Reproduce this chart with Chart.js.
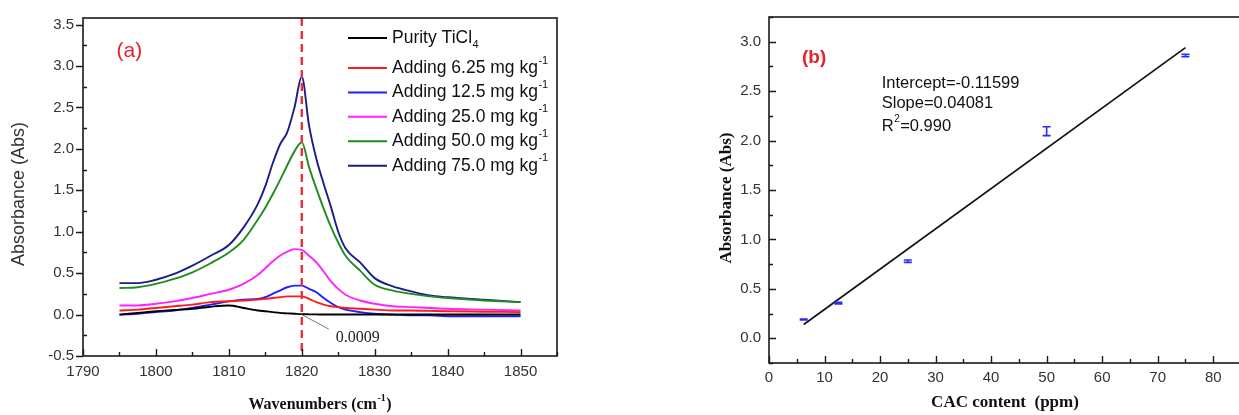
<!DOCTYPE html>
<html>
<head>
<meta charset="utf-8">
<script src="https://cdn.jsdelivr.net/npm/chart.js@4.4.0/dist/chart.umd.min.js"></script>
<style>
    html, body { margin: 0; padding: 0; background: #fff; width: 1239px; height: 415px; overflow: hidden; position: relative; }
    #wrapA { position: absolute; left: 0; top: 0; }
    #wrapB { position: absolute; left: 690px; top: 0; }
</style>
</head>
<body>
<div id="wrapA"><canvas id="chartA" width="600" height="415"></canvas></div>
<div id="wrapB"><canvas id="chartB" width="555" height="415"></canvas></div>
<script>
// ---- panel (a): spectra ----
const wavenumbers = [1795, 1797.5, 1800, 1802.5, 1805, 1807.5, 1810, 1812, 1814, 1815, 1816, 1817, 1818, 1819, 1820,
    1821, 1822, 1823, 1824, 1825, 1826, 1828, 1830, 1832.5, 1835, 1837.5, 1840, 1845, 1850];
const purity  = [0.00, 0.02, 0.04, 0.055, 0.07, 0.095, 0.11, 0.08, 0.05, 0.04, 0.03, 0.02, 0.015, 0.01, 0.005,
    0.003, 0.002, 0.001, 0.001, 0.001, 0.001, 0.001, 0.001, 0.001, 0.001, 0.001, 0.001, 0.001, 0.001];
const add625  = [0.05, 0.06, 0.08, 0.10, 0.12, 0.15, 0.16, 0.17, 0.18, 0.19, 0.20, 0.21, 0.22, 0.22, 0.22,
    0.19, 0.15, 0.12, 0.10, 0.09, 0.08, 0.07, 0.06, 0.05, 0.05, 0.045, 0.04, 0.035, 0.03];
const add125  = [0.00, 0.01, 0.03, 0.05, 0.08, 0.12, 0.16, 0.18, 0.19, 0.21, 0.25, 0.29, 0.33, 0.35, 0.35,
    0.31, 0.27, 0.20, 0.14, 0.09, 0.06, 0.03, 0.01, 0.00, -0.01, -0.01, -0.02, -0.02, -0.02];
const add250  = [0.11, 0.11, 0.13, 0.16, 0.20, 0.25, 0.30, 0.37, 0.48, 0.56, 0.64, 0.71, 0.76, 0.79, 0.78,
    0.71, 0.63, 0.52, 0.40, 0.31, 0.24, 0.17, 0.13, 0.10, 0.09, 0.08, 0.07, 0.06, 0.05];
const add500  = [0.32, 0.33, 0.37, 0.43, 0.51, 0.62, 0.75, 0.90, 1.15, 1.29, 1.45, 1.62, 1.80, 1.97, 2.08,
    1.78, 1.52, 1.28, 1.06, 0.87, 0.71, 0.53, 0.36, 0.29, 0.25, 0.22, 0.20, 0.17, 0.15];
const add750  = [0.38, 0.38, 0.42, 0.49, 0.59, 0.71, 0.84, 1.05, 1.34, 1.55, 1.82, 2.05, 2.20, 2.50, 2.87,
    2.28, 1.88, 1.58, 1.30, 1.00, 0.80, 0.63, 0.44, 0.34, 0.28, 0.23, 0.21, 0.18, 0.15];
const seriesLabels = ['Purity TiCl4', 'Adding 6.25 mg kg-1', 'Adding 12.5 mg kg-1', 'Adding 25.0 mg kg-1',
    'Adding 50.0 mg kg-1', 'Adding 75.0 mg kg-1'];
const seriesColors = ['#000000', '#ff1a1a', '#1f1fff', '#ff22ff', '#1f8c1f', '#1c1c8a'];
const xTicksA = [1790, 1800, 1810, 1820, 1830, 1840, 1850];
const yTicksA = [-0.5, 0.0, 0.5, 1.0, 1.5, 2.0, 2.5, 3.0, 3.5];
const peakLine = 1820;
const peakNote = '0.0009';

// ---- panel (b): calibration ----
const cacContent = [6.25, 12.5, 25, 50, 75];
const absorbance = [0.19, 0.355, 0.78, 2.095, 2.86];
const absError   = [0.005, 0.008, 0.012, 0.045, 0.012];
const fitX = [6.25, 75];
const fitY = [0.14, 2.94];
const xTicksB = [0, 10, 20, 30, 40, 50, 60, 70, 80];
const yTicksB = [0.0, 0.5, 1.0, 1.5, 2.0, 2.5, 3.0];
const fitText = ['Intercept=-0.11599', 'Slope=0.04081', 'R2=0.990'];

const SANS = '"Liberation Sans", Arial, sans-serif';
const SERIF = '"Liberation Serif", "Times New Roman", serif';

// base text + small raised / lowered part, returns total width
function scriptText(ctx, x, y, base, small, mode, size, family, weight) {
    ctx.textBaseline = 'middle';
    ctx.textAlign = 'left';
    ctx.font = weight + ' ' + size + 'px ' + family;
    ctx.fillText(base, x, y);
    var w = ctx.measureText(base).width;
    if (!small) return w;
    ctx.font = weight + ' ' + Math.round(size * 0.62) + 'px ' + family;
    var dy = mode === 'sup' ? -size * 0.42 : size * 0.38;
    ctx.fillText(small, x + w + 0.5, y + dy);
    return w + 0.5 + ctx.measureText(small).width;
}

function splitLabel(s) {
    if (/TiCl4$/.test(s)) return [s.slice(0, -1), '4', 'sub'];
    if (/kg-1$/.test(s)) return [s.slice(0, -2), '-1', 'sup'];
    return [s, '', ''];
}

function isMultiple(v, step) {
    return Math.abs(v / step - Math.round(v / step)) < 1e-6;
}

// frame and Origin-style ticks
function drawFrame(chart, cfg) {
    var ctx = chart.ctx, a = chart.chartArea;
    var xs = chart.scales.x, ys = chart.scales.y;
    ctx.save();
    ctx.strokeStyle = '#1a1a1a';
    ctx.lineWidth = 1.6;
    ctx.strokeRect(a.left, a.top, a.right - a.left, a.bottom - a.top);
    ctx.lineWidth = 1.4;
    ctx.beginPath();
    for (var v = cfg.xMin; v <= cfg.xMax + 1e-9; v += cfg.xMinor) {
        var px = Math.round(xs.getPixelForValue(v)) + 0.5;
        var len = isMultiple(v, cfg.xMajor) ? 7 : 4;
        ctx.moveTo(px, a.bottom);
        ctx.lineTo(px, a.bottom - len);
    }
    for (var u = cfg.yMin; u <= cfg.yMax + 1e-9; u += cfg.yMinor) {
        var py = Math.round(ys.getPixelForValue(u)) + 0.5;
        if (isMultiple(u, cfg.yMajor)) {
            ctx.moveTo(a.left, py);
            ctx.lineTo(a.left + cfg.yMajorDir * 7, py);
        } else {
            ctx.moveTo(a.left, py);
            ctx.lineTo(a.left + 4, py);
        }
    }
    ctx.stroke();
    ctx.restore();
}

var panelA = {
    id: 'panelA',
    afterDatasetsDraw: function (chart) {
        var ctx = chart.ctx, a = chart.chartArea;
        var xs = chart.scales.x, ys = chart.scales.y;
        ctx.save();
        // dashed marker at the band
        var px = xs.getPixelForValue(peakLine);
        ctx.strokeStyle = '#e8303a';
        ctx.lineWidth = 2.4;
        ctx.setLineDash([8, 5]);
        ctx.beginPath();
        ctx.moveTo(px, a.top);
        ctx.lineTo(px, a.bottom);
        ctx.stroke();
        ctx.setLineDash([]);
        // leader to the purity value
        ctx.strokeStyle = '#777';
        ctx.lineWidth = 1;
        ctx.beginPath();
        ctx.moveTo(px, ys.getPixelForValue(0));
        ctx.lineTo(xs.getPixelForValue(1823.7), ys.getPixelForValue(-0.175));
        ctx.stroke();
        ctx.fillStyle = '#222';
        ctx.font = '16px ' + SERIF;
        ctx.textBaseline = 'middle';
        ctx.textAlign = 'left';
        ctx.fillText(peakNote, xs.getPixelForValue(1824.66), ys.getPixelForValue(-0.28));
        // panel letter
        ctx.fillStyle = '#e8202a';
        ctx.font = '21px ' + SANS;
        ctx.fillText('(a)', xs.getPixelForValue(1794.6), ys.getPixelForValue(3.18));
        // legend
        var rows = [38, 68, 92.5, 116.8, 141.3, 165.7];
        seriesLabels.forEach(function (lab, i) {
            var y = rows[i];
            ctx.strokeStyle = seriesColors[i];
            ctx.lineWidth = 2;
            ctx.beginPath();
            ctx.moveTo(a.left + 265, y);
            ctx.lineTo(a.left + 304, y);
            ctx.stroke();
            ctx.fillStyle = '#111';
            var p = splitLabel(lab);
            scriptText(ctx, a.left + 309, y, p[0], p[1], p[2], 17.5, SANS, 'normal');
        });
        ctx.restore();
    },
    afterDraw: function (chart) {
        drawFrame(chart, { xMin: 1790, xMax: 1855, xMinor: 5, xMajor: 10,
            yMin: -0.5, yMax: 3.5, yMinor: 0.25, yMajor: 0.5, yMajorDir: -1 });
        var ctx = chart.ctx, a = chart.chartArea;
        ctx.save();
        ctx.fillStyle = '#333';
        // y title
        ctx.translate(19, 194);
        ctx.rotate(-Math.PI / 2);
        ctx.font = '18px ' + SANS;
        ctx.textAlign = 'center';
        ctx.textBaseline = 'middle';
        ctx.fillText('Absorbance (Abs)', 0, 0);
        ctx.restore();
        // x title with superscript
        ctx.save();
        ctx.fillStyle = '#111';
        ctx.font = 'bold 16px ' + SERIF;
        var base = 'Wavenumbers (cm', tail = ')';
        var w1 = ctx.measureText(base).width, w3 = ctx.measureText(tail).width;
        ctx.font = 'bold 10px ' + SERIF;
        var w2 = ctx.measureText('-1').width + 1;
        var x0 = (a.left + a.right) / 2 - (w1 + w2 + w3) / 2;
        var used = scriptText(ctx, x0, 405, base, '-1', 'sup', 16, SERIF, 'bold');
        ctx.font = 'bold 16px ' + SERIF;
        ctx.fillText(tail, x0 + used + 0.5, 405);
        ctx.restore();
    }
};

var panelB = {
    id: 'panelB',
    afterDatasetsDraw: function (chart) {
        var ctx = chart.ctx;
        var xs = chart.scales.x, ys = chart.scales.y;
        ctx.save();
        // error bars
        ctx.strokeStyle = '#2a2aff';
        ctx.lineWidth = 1.6;
        cacContent.forEach(function (c, i) {
            var px = xs.getPixelForValue(c);
            var lo = ys.getPixelForValue(absorbance[i] - absError[i]);
            var hi = ys.getPixelForValue(absorbance[i] + absError[i]);
            ctx.beginPath();
            ctx.moveTo(px, lo); ctx.lineTo(px, hi);
            ctx.moveTo(px - 4, lo); ctx.lineTo(px + 4, lo);
            ctx.moveTo(px - 4, hi); ctx.lineTo(px + 4, hi);
            ctx.stroke();
        });
        // panel letter
        ctx.fillStyle = '#e8202a';
        ctx.font = 'bold 19px ' + SANS;
        ctx.textBaseline = 'middle';
        ctx.textAlign = 'left';
        ctx.fillText('(b)', xs.getPixelForValue(5.94), ys.getPixelForValue(2.84));
        // fit statistics
        ctx.fillStyle = '#111';
        var tx = xs.getPixelForValue(20.3);
        scriptText(ctx, tx, ys.getPixelForValue(2.58), fitText[0], '', '', 16.5, SANS, 'normal');
        scriptText(ctx, tx, ys.getPixelForValue(2.38), fitText[1], '', '', 16.5, SANS, 'normal');
        var ry = ys.getPixelForValue(2.145);
        var wr = scriptText(ctx, tx, ry, 'R', '2', 'sup', 16.5, SANS, 'normal');
        ctx.font = '16.5px ' + SANS;
        ctx.fillText(fitText[2].slice(2), tx + wr + 0.5, ry);
        ctx.restore();
    },
    afterDraw: function (chart) {
        drawFrame(chart, { xMin: 0, xMax: 85, xMinor: 5, xMajor: 10,
            yMin: -0.25, yMax: 3.25, yMinor: 0.25, yMajor: 0.5, yMajorDir: 1 });
        var ctx = chart.ctx, a = chart.chartArea;
        ctx.save();
        ctx.fillStyle = '#111';
        ctx.font = 'bold 17px ' + SERIF;
        ctx.textAlign = 'center';
        ctx.textBaseline = 'middle';
        ctx.fillText('CAC content  (ppm)', (a.left + a.right) / 2, 403);
        ctx.translate(37, 198);
        ctx.rotate(-Math.PI / 2);
        ctx.fillText('Absorbance (Abs)', 0, 0);
        ctx.restore();
    }
};

var tickFont = { family: SANS, size: 15 };
var seriesValues = [purity, add625, add125, add250, add500, add750];

new Chart(document.getElementById('chartA'), {
    type: 'line',
    data: {
        datasets: seriesValues.map(function (vals, i) {
            return {
                label: seriesLabels[i],
                data: wavenumbers.map(function (w, j) { return { x: w, y: vals[j] }; }),
                borderColor: seriesColors[i],
                borderWidth: 1.9,
                pointRadius: 0,
                cubicInterpolationMode: 'monotone',
                fill: false
            };
        })
    },
    options: {
        responsive: false,
        animation: false,
        layout: { padding: { top: 13, right: 43, left: 0, bottom: 0 } },
        plugins: { legend: { display: false }, tooltip: { enabled: false } },
        scales: {
            x: {
                type: 'linear', min: 1790, max: 1855,
                afterBuildTicks: function (s) { s.ticks = xTicksA.map(function (v) { return { value: v }; }); },
                afterFit: function (s) { s.height = 59; },
                grid: { display: false, drawTicks: false },
                border: { display: false },
                ticks: { font: tickFont, color: '#333', padding: 7, maxRotation: 0,
                    callback: function (v) { return String(v); } }
            },
            y: {
                type: 'linear', min: -0.5, max: 3.58,
                afterBuildTicks: function (s) { s.ticks = yTicksA.map(function (v) { return { value: v }; }); },
                afterFit: function (s) { s.width = 83; },
                grid: { display: false, drawTicks: false },
                border: { display: false },
                ticks: { font: tickFont, color: '#333', padding: 9, callback: function (v) { return v.toFixed(1); } }
            }
        }
    },
    plugins: [panelA]
});

new Chart(document.getElementById('chartB'), {
    type: 'scatter',
    data: {
        datasets: [{
            label: 'Linear fit',
            data: fitX.map(function (x, i) { return { x: x, y: fitY[i] }; }),
            showLine: true,
            borderColor: '#111',
            borderWidth: 1.7,
            pointRadius: 0
        }, {
            label: 'Absorbance',
            data: cacContent.map(function (c, i) { return { x: c, y: absorbance[i] }; }),
            pointRadius: 0,
            borderColor: '#2a2aff'
        }]
    },
    options: {
        responsive: false,
        animation: false,
        layout: { padding: { top: 12, right: 4, left: 0, bottom: 0 } },
        plugins: { legend: { display: false }, tooltip: { enabled: false } },
        scales: {
            x: {
                type: 'linear', min: 0, max: 85,
                afterBuildTicks: function (s) { s.ticks = xTicksB.map(function (v) { return { value: v }; }); },
                afterFit: function (s) { s.height = 52; },
                grid: { display: false, drawTicks: false },
                border: { display: false },
                ticks: { font: tickFont, color: '#333', padding: 6, maxRotation: 0,
                    callback: function (v) { return String(v); } }
            },
            y: {
                type: 'linear', min: -0.25, max: 3.25,
                afterBuildTicks: function (s) { s.ticks = yTicksB.map(function (v) { return { value: v }; }); },
                afterFit: function (s) { s.width = 79; },
                grid: { display: false, drawTicks: false },
                border: { display: false },
                ticks: { font: tickFont, color: '#333', padding: 8, callback: function (v) { return v.toFixed(1); } }
            }
        }
    },
    plugins: [panelB]
});
</script>
</body>
</html>
